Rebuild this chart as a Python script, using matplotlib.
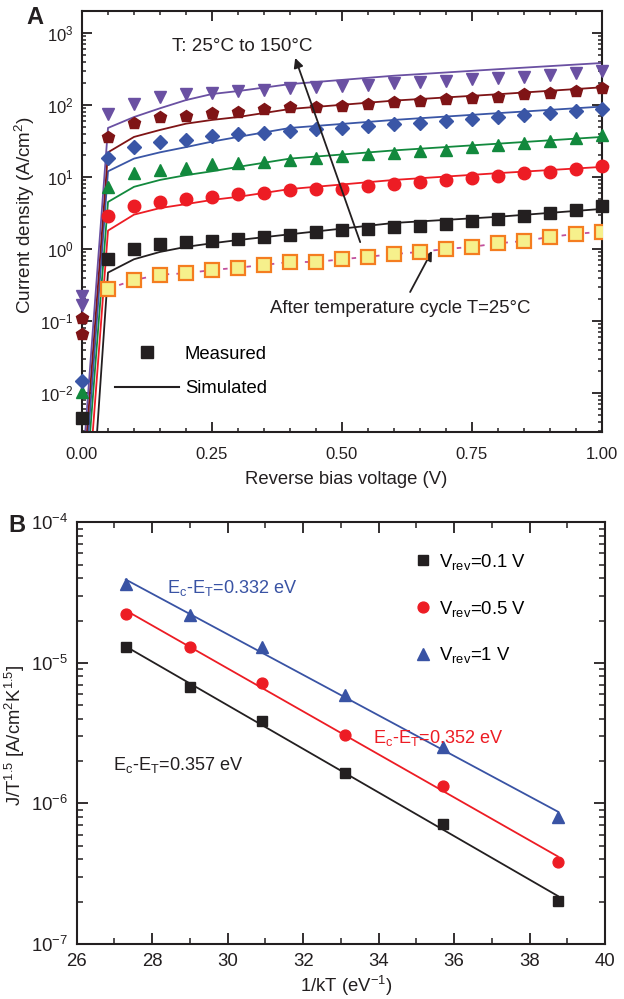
import numpy as np
import matplotlib
matplotlib.use("Agg")
import matplotlib.pyplot as plt
from matplotlib.lines import Line2D
from matplotlib.ticker import LogLocator, MultipleLocator, NullFormatter, FixedLocator

plt.rcParams['font.family'] = ['Liberation Sans', 'DejaVu Sans']
plt.rcParams['mathtext.fontset'] = 'custom'
plt.rcParams['mathtext.rm'] = 'Liberation Sans'
plt.rcParams['mathtext.it'] = 'Liberation Sans:italic'
plt.rcParams['mathtext.bf'] = 'Liberation Sans:bold'

# ---------------- Panel A: J-V curves at several temperatures ----------------
meas_v = [0.0, 0.05, 0.10, 0.15, 0.20, 0.25, 0.30, 0.35, 0.40, 0.45, 0.50,
          0.55, 0.60, 0.65, 0.70, 0.75, 0.80, 0.85, 0.90, 0.95, 1.00]

j_25 = [0.0045, 0.72, 1.0, 1.17, 1.25, 1.29, 1.38, 1.47, 1.56, 1.72, 1.83,
        1.87, 2.0, 2.1, 2.25, 2.45, 2.65, 2.9, 3.2, 3.5, 3.95]
j_50 = [np.nan, 2.9, 4.0, 4.5, 4.9, 5.3, 5.8, 6.0, 6.5, 6.8, 6.9,
        7.5, 8.0, 8.6, 9.1, 9.6, 10.3, 11.3, 11.9, 12.9, 14.2]
j_75 = [0.0104, 7.3, 11.3, 12.5, 13.3, 15, 15.8, 16.3, 17.3, 18.3, 19.5,
        20.7, 21.7, 22.9, 24, 26, 28, 30, 32, 35, 38]
j_100 = [0.0148, 18.5, 26, 31, 33, 37, 39, 41, 44, 46, 48,
         51, 54, 57, 60, 64, 69, 73, 77, 83, 88]
j_125 = [0.11, 36, 56, 68, 71, 78, 80, 88, 94, 95, 97,
         103, 109, 114, 121, 125, 129, 141, 148, 158, 172]
j_150 = [0.22, 75, 103, 129, 142, 148, 157, 162, 172, 178, 183,
         190, 200, 208, 215, 228, 238, 246, 262, 277, 299]
j_cycle = [np.nan, 0.28, 0.37, 0.44, 0.46, 0.51, 0.55, 0.60, 0.66, 0.66, 0.72,
           0.78, 0.85, 0.91, 1.0, 1.07, 1.2, 1.29, 1.47, 1.62, 1.74]

# second reading taken at zero bias
j0_repeat_125 = 0.066
j0_repeat_150 = 0.167

sim_v = [0.0, 0.05, 0.10, 0.15, 0.20, 0.25, 0.30, 0.40, 0.60, 0.80, 1.00]
sim_25 = [2.5e-6, 0.47, 0.72, 0.91, 1.07, 1.2, 1.33, 1.6, 2.3, 2.8, 3.6]
sim_50 = [3e-5, 1.8, 3.0, 3.7, 4.2, 4.8, 5.3, 6.8, 9.1, 11.3, 13.8]
sim_75 = [1e-4, 4.5, 7.3, 9.1, 10.6, 12, 13.8, 18, 23.4, 29, 36]
sim_100 = [1.8e-4, 12, 18, 22, 26, 31, 36, 48, 62, 77, 95]
sim_125 = [3.6e-4, 22, 36, 45, 55, 62, 68, 88, 115, 141, 176]
sim_150 = [7.2e-4, 48, 68, 90, 117, 142, 156, 195, 255, 314, 383]

# ---------------- Panel B: Arrhenius plot ----------------
inv_kt = [27.3, 29.0, 30.9, 33.1, 35.7, 38.75]
jt_01 = [1.30e-5, 6.7e-6, 3.88e-6, 1.64e-6, 7.15e-7, 2.02e-7]
jt_05 = [2.24e-5, 1.30e-5, 7.15e-6, 3.07e-6, 1.32e-6, 3.82e-7]
jt_10 = [3.66e-5, 2.18e-5, 1.30e-5, 5.9e-6, 2.53e-6, 8.0e-7]
ea_01, ea_05, ea_10 = 0.357, 0.352, 0.332

BLACK = '#231f20'
RED = '#ed1c24'
GREEN = '#12893d'
BLUE = '#3a56a6'
DKRED = '#7f1416'
PURPLE = '#6a50a2'
BLUE_B = '#3953a4'

fig = plt.figure(figsize=(6.24, 9.99), dpi=100)

# ---------- A ----------
axA = fig.add_axes([82 / 624, 1 - 432 / 999, 520 / 624, 421 / 999])
series = [
    (sim_25, j_25, BLACK, 's', 8.0),
    (sim_50, j_50, RED, 'o', 9.0),
    (sim_75, j_75, GREEN, '^', 8.6),
    (sim_100, j_100, BLUE, 'D', 6.8),
    (sim_125, j_125, DKRED, 'p', 9.0),
    (sim_150, j_150, PURPLE, 'v', 8.6),
]
for sim, meas, col, mk, ms in series:
    axA.plot(sim_v, sim, '-', color=col, lw=1.3, zorder=2)
    axA.plot(meas_v, meas, linestyle='none', marker=mk, ms=ms, color=col,
             mec=col, zorder=3, clip_on=False)
axA.plot([0.0], [j0_repeat_125], linestyle='none', marker='p', ms=9.0,
         color=DKRED, zorder=3, clip_on=False)
axA.plot([0.0], [j0_repeat_150], linestyle='none', marker='v', ms=8.6,
         color=PURPLE, zorder=3, clip_on=False)
axA.plot(meas_v, j_cycle, linestyle=(0, (2.5, 4)), color='#c2509c', lw=1.3,
         marker='s', ms=9.5, mfc='#f6f08c', mec='#f47d20', mew=1.6, zorder=4)

axA.set_yscale('log')
axA.set_xlim(0, 1.0)
axA.set_ylim(2.87e-3, 2020)
axA.xaxis.set_major_locator(FixedLocator([0.0, 0.25, 0.5, 0.75, 1.0]))
axA.xaxis.set_minor_locator(MultipleLocator(0.05))
axA.xaxis.set_major_formatter(matplotlib.ticker.FormatStrFormatter('%.2f'))
axA.yaxis.set_major_locator(LogLocator(base=10, numticks=12))
axA.yaxis.set_minor_locator(LogLocator(base=10, subs=np.arange(2, 10), numticks=12))
axA.yaxis.set_minor_formatter(NullFormatter())

axA.set_xlabel('Reverse bias voltage (V)', fontsize=13.3)
axA.set_ylabel('Current density (A/cm$^2$)', fontsize=13.6)
axA.xaxis.set_label_coords(0.508, -0.093)
axA.yaxis.set_label_coords(-0.086, 0.515)

axA.legend(handles=[Line2D([], [], ls='none', marker='s', ms=8, color=BLACK),
                    Line2D([], [], ls='-', lw=1.5, color=BLACK)],
           labels=['Measured', 'Simulated'], loc='upper left',
           bbox_to_anchor=(0.063, 0.205), frameon=False, fontsize=13.3,
           handlelength=3.5, handletextpad=0.3, labelspacing=0.95,
           borderpad=0, borderaxespad=0)

axA.text(0.173, 0.9145, 'T: 25\u00b0C to 150\u00b0C', transform=axA.transAxes,
         fontsize=13.6, va='center', ha='left', color=BLACK)
axA.text(0.3615, 0.2945, 'After temperature cycle T=25\u00b0C', transform=axA.transAxes,
         fontsize=13.4, va='center', ha='left', color=BLACK)
arrow = dict(arrowstyle='-|>', lw=1.3, color=BLACK, mutation_scale=14, shrinkA=0, shrinkB=0)
axA.annotate('', xy=(0.410, 0.8884), xytext=(0.535, 0.451),
             xycoords='axes fraction', textcoords='axes fraction', arrowprops=arrow)
axA.annotate('', xy=(0.673, 0.430), xytext=(0.631, 0.3325),
             xycoords='axes fraction', textcoords='axes fraction', arrowprops=arrow)

# ---------- B ----------
axB = fig.add_axes([76.7 / 624, 1 - 944 / 999, 528.3 / 624, 421.7 / 999])
x = np.array(inv_kt)
for yv, ea, col, mk, ms in [(jt_01, ea_01, BLACK, 's', 7.8),
                            (jt_05, ea_05, RED, 'o', 7.8),
                            (jt_10, ea_10, BLUE_B, '^', 9.0)]:
    slope = -ea / np.log(10)
    intercept = np.mean(np.log10(yv) - slope * x)
    axB.plot(x, 10 ** (intercept + slope * x), '-', color=col, lw=1.3, zorder=2)
    axB.plot(x, yv, linestyle='none', marker=mk, ms=ms, color=col, zorder=3)

axB.set_yscale('log')
axB.set_xlim(26, 40)
axB.set_ylim(1e-7, 1e-4)
axB.xaxis.set_major_locator(MultipleLocator(2))
axB.xaxis.set_minor_locator(MultipleLocator(1))
axB.yaxis.set_major_locator(LogLocator(base=10, numticks=12))
axB.yaxis.set_minor_locator(LogLocator(base=10, subs=np.arange(2, 10), numticks=12))
axB.yaxis.set_minor_formatter(NullFormatter())
axB.set_xlabel('1/kT (eV$^{-1}$)', fontsize=13.3)
axB.set_ylabel('J/T$^{1.5}$ [A/cm$^2$K$^{1.5}$]', fontsize=13.3)
axB.xaxis.set_label_coords(0.51, -0.072)
axB.yaxis.set_label_coords(-0.094, 0.496)

axB.legend(handles=[Line2D([], [], ls='none', marker='s', ms=7.8, color=BLACK),
                    Line2D([], [], ls='none', marker='o', ms=7.8, color=RED),
                    Line2D([], [], ls='none', marker='^', ms=9.0, color=BLUE_B)],
           labels=['V$_{\\mathrm{rev}}$=0.1 V', 'V$_{\\mathrm{rev}}$=0.5 V',
                   'V$_{\\mathrm{rev}}$=1 V'],
           loc='upper left', bbox_to_anchor=(0.638, 0.93), frameon=False,
           fontsize=13.3, handlelength=0.95, handletextpad=0.4, labelspacing=1.45,
           borderpad=0, borderaxespad=0)

axB.text(0.171, 0.844, 'E$_\\mathrm{c}$-E$_\\mathrm{T}$=0.332 eV', transform=axB.transAxes,
         color=BLUE_B, fontsize=13.1, va='center', ha='left')
axB.text(0.561, 0.4885, 'E$_\\mathrm{c}$-E$_\\mathrm{T}$=0.352 eV', transform=axB.transAxes,
         color=RED, fontsize=13.1, va='center', ha='left')
axB.text(0.0689, 0.4245, 'E$_\\mathrm{c}$-E$_\\mathrm{T}$=0.357 eV', transform=axB.transAxes,
         color=BLACK, fontsize=13.1, va='center', ha='left')

for ax, labsz, majl, minl in ((axA, 12, 7, 3.2), (axB, 13.4, 8, 4.5)):
    for sp in ax.spines.values():
        sp.set_linewidth(1.5)
        sp.set_color(BLACK)
    ax.tick_params(which='both', direction='in', top=True, right=True,
                   colors=BLACK, labelsize=labsz)
    ax.tick_params(which='major', length=majl, width=1.3)
    ax.tick_params(which='minor', length=minl, width=1.1)
    ax.xaxis.label.set_color(BLACK)
    ax.yaxis.label.set_color(BLACK)

axA.tick_params(axis='x', which='major', pad=11)
axA.tick_params(axis='y', which='major', pad=6)
axB.tick_params(axis='x', which='major', pad=6.5)
axB.tick_params(axis='y', which='major', pad=6)

fig.text(35 / 624, 1 - 17 / 999, 'A', fontsize=17, fontweight='bold',
         ha='center', va='center', color=BLACK)
fig.text(17 / 624, 1 - 525 / 999, 'B', fontsize=17, fontweight='bold',
         ha='center', va='center', color=BLACK)

fig.savefig('out.png', dpi=100)
